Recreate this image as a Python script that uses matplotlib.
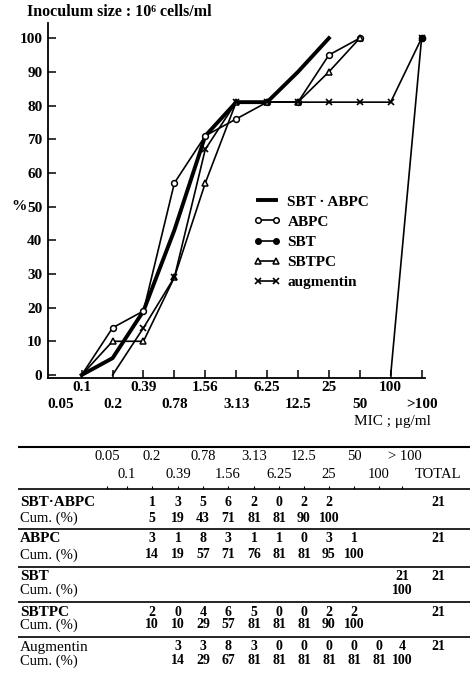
import matplotlib
matplotlib.use("Agg")
import matplotlib.pyplot as plt
import matplotlib.transforms as mtransforms
from matplotlib.lines import Line2D

plt.rcParams['font.family'] = ['Liberation Serif', 'DejaVu Serif']

# MIC columns (µg/ml), in doubling steps
mic_labels = ["0.05", "0.1", "0.2", "0.39", "0.78", "1.56", "3.13",
              "6.25", "12.5", "25", "50", "100", ">100"]

# Number of strains per MIC column and cumulative %, starting at the given column
sbt_abpc_start = 2
sbt_abpc_counts = [1, 3, 5, 6, 2, 0, 2, 2]
sbt_abpc_cum = [5, 19, 43, 71, 81, 81, 90, 100]

abpc_start = 2
abpc_counts = [3, 1, 8, 3, 1, 1, 0, 3, 1]
abpc_cum = [14, 19, 57, 71, 76, 81, 81, 95, 100]

sbt_start = 12
sbt_counts = [21]
sbt_cum = [100]

sbtpc_start = 2
sbtpc_counts = [2, 0, 4, 6, 5, 0, 0, 2, 2]
sbtpc_cum = [10, 10, 29, 57, 81, 81, 81, 90, 100]

aug_start = 3
aug_counts = [3, 3, 8, 3, 0, 0, 0, 0, 0, 4]
aug_cum = [14, 29, 67, 81, 81, 81, 81, 81, 81, 100]

totals = [21, 21, 21, 21, 21]

W, H = 474, 689
fig = plt.figure(figsize=(W / 100, H / 100), dpi=100)
fig.patch.set_facecolor('white')


def fx(x):
    return x / W


def fy(y):
    return 1 - y / H


# ---------------- table (pixel-coordinate canvas) ----------------
tab = fig.add_axes([0, 0, 1, 1])
tab.set_xlim(0, W)
tab.set_ylim(H, 0)
tab.axis('off')

col_x = [107, 127, 152, 178, 203, 228, 254, 279, 304, 329, 354, 379, 402]
total_x = 438

tab.hlines(447, 18, 470, color='black', lw=1.5)
tab.hlines([489, 529, 567, 602, 637], 18, 470, color='black', lw=1.2)
tab.vlines(col_x, 486, 489, color='black', lw=0.8)

for i, lab in enumerate(mic_labels):
    y = 457 if i % 2 == 0 else 475
    txt = lab if lab != ">100" else "> 100"
    x = col_x[i] + (3 if lab == ">100" else 0)
    tab.text(x, y, txt, ha='center', va='center', size=10.5)
tab.text(total_x, 475, "TOTAL", ha='center', va='center', size=10.5)

rows = [
    ("SBT\u00b7ABPC", 'bold', 502, 518, sbt_abpc_start, sbt_abpc_counts, sbt_abpc_cum, totals[0]),
    ("ABPC", 'bold', 539, 555, abpc_start, abpc_counts, abpc_cum, totals[1]),
    ("SBT", 'bold', 577, 590, sbt_start, sbt_counts, sbt_cum, totals[2]),
    ("SBTPC", 'bold', 612, 625, sbtpc_start, sbtpc_counts, sbtpc_cum, totals[3]),
    ("Augmentin", 'normal', 647, 661, aug_start, aug_counts, aug_cum, totals[4]),
]
for name, wt, y1, y2, start, counts, cum, tot in rows:
    tab.text(20, y1, name, ha='left', va='center', size=11, weight=wt)
    tab.text(20, y2, "Cum. (%)", ha='left', va='center', size=10.5)
    for k, v in enumerate(counts):
        tab.text(col_x[start + k], y1, str(v), ha='center', va='center',
                 size=10, weight='bold')
    for k, v in enumerate(cum):
        tab.text(col_x[start + k], y2, str(v), ha='center', va='center',
                 size=10, weight='bold')
    tab.text(total_x, y1, str(tot), ha='center', va='center',
             size=10, weight='bold')

# ---------------- cumulative distribution chart ----------------
ax = fig.add_axes([fx(48), fy(378), (425 - 48) / W, (378 - 23) / H])
ax.patch.set_alpha(0)
ax.set_xlim(-0.09, 12.11)
ax.set_ylim(-0.9, 104.5)
for side in ('top', 'right'):
    ax.spines[side].set_visible(False)
for side in ('left', 'bottom'):
    ax.spines[side].set_linewidth(1.3)

series = [
    (sbt_abpc_start, sbt_abpc_cum, dict(lw=2.8, marker=None)),
    (abpc_start, abpc_cum, dict(lw=1.2, marker='o', mfc='white', ms=4.2, mew=1.1)),
    (sbtpc_start, sbtpc_cum, dict(lw=1.2, marker='^', mfc='white', ms=4.2, mew=1.1)),
    (aug_start, aug_cum, dict(lw=1.2, marker='x', ms=4.2, mew=1.2)),
    (sbt_start, sbt_cum, dict(lw=1.2, marker='o', mfc='black', ms=4.5)),
]
for start, cum, style in series:
    xs = [start - 1] + list(range(start, start + len(cum)))
    ys = [0] + list(cum)
    ax.plot(xs, ys, color='black', markevery=list(range(1, len(xs))),
            solid_joinstyle='miter', clip_on=False, **style)

ax.set_yticks(range(0, 101, 10))
ax.tick_params(axis='y', direction='in', length=6, width=1.1, pad=4, labelsize=11)
for t in ax.get_yticklabels():
    t.set_fontweight('bold')
ax.set_xticks(range(1, 13))
ax.set_xticklabels([])
ax.tick_params(axis='x', direction='in', length=6, width=1.1)

lab_tr = mtransforms.blended_transform_factory(ax.transData, ax.transAxes)
for i, lab in enumerate(mic_labels):
    yy = -10 / 355 if i % 2 == 1 else -27 / 355
    if i == 0:
        ax.text(i - 0.1, yy, lab, transform=lab_tr, ha='left', va='center',
                size=11, weight='bold')
    else:
        ax.text(i, yy, lab, transform=lab_tr, ha='center', va='center',
                size=11, weight='bold')

ax.text((19 - 48) / 377, 50, "%", transform=mtransforms.blended_transform_factory(
    ax.transAxes, ax.transData), ha='center', va='center', size=11, weight='bold')

fig.text(fx(431), fy(421), "MIC ; \u03bcg/ml", ha='right', va='center', size=11)
fig.text(fx(27), fy(12), "Inoculum size : 10\u2076 cells/ml", ha='left',
         va='center', size=11.5, weight='bold')

handles = [
    Line2D([], [], color='black', lw=2.8),
    Line2D([], [], color='black', lw=1.2, marker='o', mfc='white', ms=4, mew=1.1),
    Line2D([], [], color='black', lw=1.2, marker='o', mfc='black', ms=4),
    Line2D([], [], color='black', lw=1.2, marker='^', mfc='white', ms=4, mew=1.1),
    Line2D([], [], color='black', lw=1.2, marker='x', ms=4, mew=1.2),
]
labels = ["SBT \u00b7 ABPC", "ABPC", "SBT", "SBTPC", "augmentin"]
ax.legend(handles, labels, loc='upper left', bbox_to_anchor=(fx(253), fy(195)),
          bbox_transform=fig.transFigure, frameon=False, numpoints=2,
          handlelength=1.8, handletextpad=0.45, labelspacing=0.42,
          borderpad=0, borderaxespad=0,
          prop=dict(family=['Liberation Serif', 'DejaVu Serif'], weight='bold', size=11))

fig.savefig("out.png", dpi=100, facecolor='white')
